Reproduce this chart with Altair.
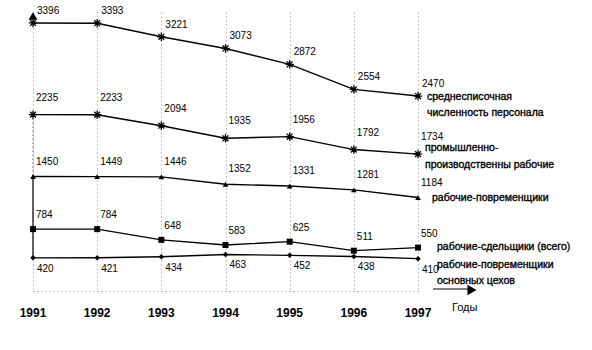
import altair as alt
import pandas as pd

years = [1991, 1992, 1993, 1994, 1995, 1996, 1997]
staff = [3396, 3393, 3221, 3073, 2872, 2554, 2470]
industrial = [2235, 2233, 2094, 1935, 1956, 1792, 1734]
timeworkers = [1450, 1449, 1446, 1352, 1331, 1281, 1184]
pieceworkers = [784, 784, 648, 583, 625, 511, 550]
main_timeworkers = [420, 421, 434, 463, 452, 438, 410]

series_names = [
    "среднесписочная\nчисленность персонала",
    "промышленно-\nпроизводственны рабочие",
    "рабочие-повременщики",
    "рабочие-сдельщики (всего)",
    "рабочие-повременщики\nосновных цехов",
]
series_values = [staff, industrial, timeworkers, pieceworkers, main_timeworkers]

FONT = "Liberation Sans, Arial"
ASTER = "M-1,0L1,0M0,-1L0,1M-0.7,-0.7L0.7,0.7M-0.7,0.7L0.7,-0.7"

# style per series: marker, label offsets, legend offsets
styles = [
    dict(shape=ASTER, filled=False, size=70, ldx=4, ldy=-12, gdx=9, gdy=-4, lh=16),
    dict(shape=ASTER, filled=False, size=70, ldx=3, ldy=-17, gdx=7, gdy=-11, lh=17),
    dict(shape="triangle-up", filled=True, size=32, ldx=3, ldy=-15, gdx=14, gdy=-5, lh=16),
    dict(shape="square", filled=True, size=36, ldx=3, ldy=-14, gdx=19, gdy=-6, lh=16),
    dict(shape="diamond", filled=True, size=30, ldx=4, ldy=11, gdx=19, gdy=1, lh=16),
]

xscale = alt.Scale(domain=[1991, 1997], nice=False, zero=False)
yscale = alt.Scale(domain=[0, 3535], nice=False, zero=True)

layers = []

# axes with dotted grid
grid_df = pd.DataFrame({"year": years, "value": [0] * len(years)})
axis_layer = alt.Chart(grid_df).mark_point(opacity=0).encode(
    x=alt.X("year:Q", scale=xscale, axis=alt.Axis(
        grid=True, gridDash=[1, 3], gridColor="black", gridOpacity=0.45,
        ticks=False, labels=False, title=None, values=years,
        domain=True, domainDash=[1, 3], domainColor="black", domainOpacity=0.5)),
    y=alt.Y("value:Q", scale=yscale, axis=None),
)
layers.append(axis_layer)

# y axis line pieces at 1991
yaxis_df = pd.DataFrame({"year": [years[0]], "top": [timeworkers[0]], "bottom": [main_timeworkers[0]],
                         "top2": [industrial[0]]})
layers.append(alt.Chart(yaxis_df).mark_rule(color="black", strokeWidth=1.2).encode(
    x=alt.X("year:Q", scale=xscale), y=alt.Y("top:Q", scale=yscale), y2="bottom:Q"))
layers.append(alt.Chart(yaxis_df).mark_rule(color="black", strokeWidth=1, strokeDash=[1, 3]).encode(
    x=alt.X("year:Q", scale=xscale), y=alt.Y("top2:Q", scale=yscale), y2="top:Q"))

for name, vals, st in zip(series_names, series_values, styles):
    df = pd.DataFrame({"year": years, "value": vals, "label": [str(v) for v in vals]})
    base = alt.Chart(df).encode(
        x=alt.X("year:Q", scale=xscale),
        y=alt.Y("value:Q", scale=yscale),
    )
    layers.append(base.mark_line(color="black", strokeWidth=1.4))
    if st["filled"]:
        layers.append(base.mark_point(shape=st["shape"], filled=True, color="black",
                                      size=st["size"], opacity=1))
    else:
        layers.append(base.mark_point(shape=st["shape"], filled=False, stroke="black",
                                      strokeWidth=1.3, size=st["size"], opacity=1))
    layers.append(base.mark_text(align="left", baseline="middle", dx=st["ldx"], dy=st["ldy"],
                                 font=FONT, fontSize=10, color="black").encode(text="label:N"))
    last = pd.DataFrame({"year": [years[-1]], "value": [vals[-1]], "name": [name]})
    layers.append(alt.Chart(last).mark_text(
        align="left", baseline="top", dx=st["gdx"], dy=st["gdy"], lineBreak="\n",
        lineHeight=st["lh"], font=FONT, fontSize=10.5, color="black",
        stroke="black", strokeWidth=0.35
    ).encode(x=alt.X("year:Q", scale=xscale), y=alt.Y("value:Q", scale=yscale), text="name:N"))

# year labels
yl = pd.DataFrame({"year": years, "label": [str(y) for y in years]})
layers.append(alt.Chart(yl).mark_text(font=FONT, fontSize=12, fontWeight="bold",
                                      baseline="middle", color="black").encode(
    x=alt.X("year:Q", scale=xscale), y=alt.value(301), text="label:N"))

# x axis arrow and title
layers.append(alt.Chart(pd.DataFrame({"a": [0]})).mark_rule(color="black", strokeWidth=1).encode(
    x=alt.value(400), x2=alt.value(436), y=alt.value(277)))
layers.append(alt.Chart(pd.DataFrame({"a": [0]})).mark_point(
    shape="triangle-right", filled=True, color="black", size=110, opacity=1).encode(
    x=alt.value(439), y=alt.value(278)))
layers.append(alt.Chart(pd.DataFrame({"t": ["Годы"]})).mark_text(
    font=FONT, fontSize=11, align="left", baseline="middle", color="black").encode(
    x=alt.value(419), y=alt.value(296), text="t:N"))
# y axis arrow
layers.append(alt.Chart(pd.DataFrame({"a": [0]})).mark_point(
    shape="triangle-up", filled=True, color="black", size=80, opacity=1).encode(
    x=alt.value(0), y=alt.value(4)))

chart = alt.layer(*layers).properties(
    width=385, height=279,
    padding={"left": 33, "top": 12, "right": 174, "bottom": 59},
    autosize="none",
    background="white",
).configure_view(stroke=None)

chart.save("out.html", embed_options={"renderer": "svg", "actions": False})
